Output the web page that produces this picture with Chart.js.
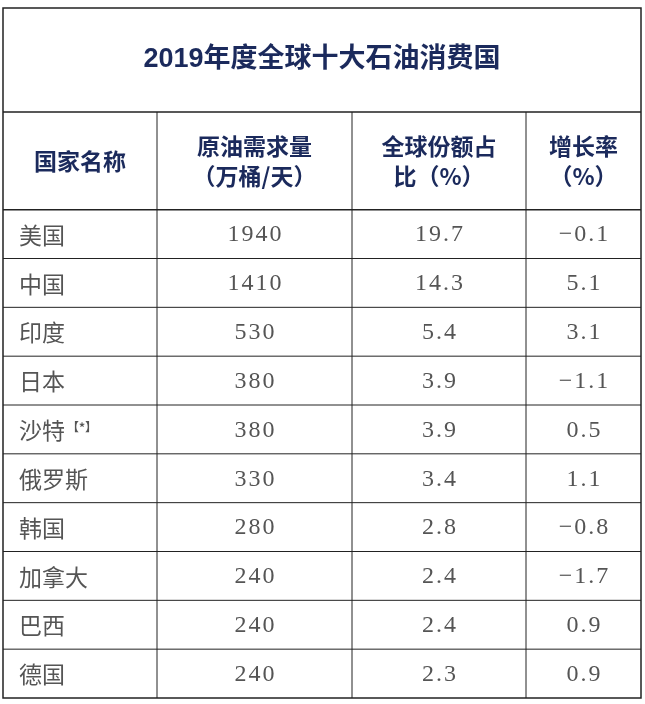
<!DOCTYPE html>
<html><head><meta charset="utf-8">
<script src="https://cdn.jsdelivr.net/npm/chart.js@4/dist/chart.umd.min.js"></script>
<style>html,body{margin:0;padding:0;background:#fff}#wrap{width:645px;height:704px}</style>
</head><body><div id="wrap"><canvas id="c"></canvas></div>
<script>
// Table data
const title = '2019年度全球十大石油消费国';
const headers = [['国家名称'], ['原油需求量', '（万桶/天）'], ['全球份额占', '比（%）'], ['增长率', '（%）']];
const countries = ['美国', '中国', '印度', '日本', '沙特', '俄罗斯', '韩国', '加拿大', '巴西', '德国'];
const demand = [1940, 1410, 530, 380, 380, 330, 280, 240, 240, 240];
const share = ['19.7', '14.3', '5.4', '3.9', '3.9', '3.4', '2.8', '2.4', '2.4', '2.3'];
const growth = ['-0.1', '5.1', '3.1', '-1.1', '0.5', '1.1', '-0.8', '-1.7', '0.9', '0.9'];

// Column edges in x-scale units, row edges in y-scale units
const colEdges = [0, 154, 349, 523, 638];
const titleH = 2.13, headH = 2.0;

const navy = '#1b2a5c', grey = '#555', line = '#222';

const tablePlugin = {
    id: 'table',
    afterDraw(chart) {
        const ctx = chart.ctx, xs = chart.scales.x, ys = chart.scales.y;
        const X = v => xs.getPixelForValue(v), Y = v => ys.getPixelForValue(v);
        const nRows = countries.length;
        const yEnd = titleH + headH + nRows;
        ctx.save();
        ctx.strokeStyle = line;
        ctx.lineWidth = 1.5;
        ctx.strokeRect(X(0), Y(0), X(colEdges[4]) - X(0), Y(yEnd) - Y(0));
        ctx.beginPath();
        [titleH, titleH + headH].forEach(r => { ctx.moveTo(X(0), Y(r)); ctx.lineTo(X(colEdges[4]), Y(r)); });
        ctx.stroke();
        ctx.lineWidth = 1;
        ctx.beginPath();
        for (let i = 1; i < nRows; i++) {
            const r = titleH + headH + i;
            ctx.moveTo(X(0), Y(r)); ctx.lineTo(X(colEdges[4]), Y(r));
        }
        for (let c = 1; c < 4; c++) {
            ctx.moveTo(X(colEdges[c]), Y(titleH)); ctx.lineTo(X(colEdges[c]), Y(yEnd));
        }
        ctx.stroke();

        ctx.textBaseline = 'middle';
        // title
        ctx.fillStyle = navy;
        ctx.textAlign = 'center';
        ctx.font = 'bold 27px "Liberation Sans", "Noto Sans CJK SC"';
        ctx.fillText(title, X(colEdges[4] / 2), Y(titleH / 2));
        // headers
        ctx.font = 'bold 23px "Noto Sans CJK SC"';
        headers.forEach((h, c) => {
            const cx = X((colEdges[c] + colEdges[c + 1]) / 2);
            const cy = Y(titleH + headH / 2);
            h.forEach((t, k) => ctx.fillText(t, cx, cy + (k - (h.length - 1) / 2) * 30));
        });
        // body
        ctx.fillStyle = grey;
        for (let i = 0; i < nRows; i++) {
            const cy = Y(titleH + headH + i + 0.5) + 1;
            ctx.textAlign = 'left';
            ctx.font = '23px "Noto Sans CJK SC"';
            ctx.fillText(countries[i], X(colEdges[0]) + 16, cy);
            if (countries[i] === '沙特') {
                const w = ctx.measureText(countries[i]).width;
                ctx.font = 'bold 12px "Noto Sans CJK SC"';
                ctx.fillText('【*】', X(colEdges[0]) + 16 + w + 2, cy - 3);
            }
            ctx.textAlign = 'center';
            ctx.font = '24px "Liberation Serif"';
            const vals = [String(demand[i]), share[i], growth[i].replace('-', '−')];
            vals.forEach((v, k) => {
                const cx = X((colEdges[k + 1] + colEdges[k + 2]) / 2);
                ctx.fillText(v.split('').join('\u200A'), cx, cy);
            });
        }
        ctx.restore();
    }
};

new Chart(document.getElementById('c'), {
    type: 'scatter',
    data: { datasets: [{ data: [] }] },
    options: {
        responsive: true,
        maintainAspectRatio: false,
        animation: false,
        layout: { padding: { left: 3, right: 4, top: 8, bottom: 6 } },
        plugins: { legend: { display: false }, tooltip: { enabled: false } },
        scales: {
            x: { type: 'linear', min: 0, max: colEdges[4], display: false },
            y: { type: 'linear', min: 0, max: titleH + headH + countries.length, reverse: true, display: false }
        }
    },
    plugins: [tablePlugin]
});
</script></body></html>
